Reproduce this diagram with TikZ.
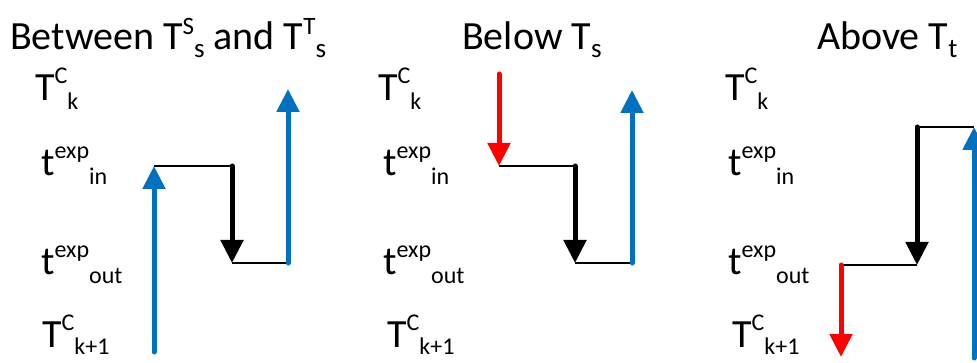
\documentclass[tikz,border=0pt]{standalone}
\usepackage{fontspec}
\setmainfont{Carlito}
\usetikzlibrary{arrows.meta}
\definecolor{myblue}{RGB}{0,112,192}
\definecolor{myred}{RGB}{255,0,0}
\newcommand\upx[1]{\raisebox{17pt}{\fontsize{24}{24}\selectfont #1}}
\newcommand\dnx[1]{\raisebox{-9pt}{\fontsize{24}{24}\selectfont #1}}
\newcommand\dnxb[1]{\raisebox{-7pt}{\fontsize{24}{24}\selectfont #1}}
\newcommand\tupx[1]{\raisebox{15pt}{\fontsize{25}{25}\selectfont #1}}
\newcommand\tdnx[1]{\raisebox{-8pt}{\fontsize{27}{27}\selectfont #1}}
\tikzset{
  lbl/.style={anchor=base west, inner sep=0pt, font=\fontsize{40}{40}\selectfont},
  ttl/.style={anchor=base west, inner sep=0pt, font=\fontsize{40}{40}\selectfont},
  thick arrow/.style={line width=5pt, line cap=round, -{Triangle[width=22pt,length=23pt]}},
  blueflow/.style={thick arrow, draw=myblue},
  redflow/.style={thick arrow, draw=myred},
  blackflow/.style={thick arrow, draw=black},
  link/.style={line width=1.7pt, draw=black}
}
\begin{document}
\begin{tikzpicture}[x=1pt,y=-1pt]
\useasboundingbox[fill=white] (0,0) rectangle (977,363);
% ---------- Panel 1 ----------
\node[ttl] (t1) at (10,50) {Between T\tupx{S}\tdnx{s} and T\tupx{T}\tdnx{s}};
\node[lbl] (p1k)  at (35,101) {T\upx{C}\dnx{k}};
\node[lbl] (p1in) at (41,176) {t\upx{exp}\dnx{in}};
\node[lbl] (p1out) at (41,275) {t\upx{exp}\dnx{out}};
\node[lbl] (p1k1) at (42,347) {T\upx{C}\dnxb{k+1}};
\coordinate (a1) at (154,352);
\coordinate (a2) at (154,166);
\coordinate (b1) at (232,166);
\coordinate (b2) at (232,263);
\coordinate (c1) at (288,263);
\coordinate (c2) at (288,89);
\draw[link] (a2) -- (b1);
\draw[link] (b2) -- (c1);
\draw[blueflow] (a1) -- (a2);
\draw[blackflow] (b1) -- (b2);
\draw[blueflow] (c1) -- (c2);
% ---------- Panel 2 ----------
\node[ttl] (t2) at (462,50) {Below T\tdnx{s}};
\node[lbl] (p2k)  at (378,101) {T\upx{C}\dnx{k}};
\node[lbl] (p2in) at (383,176) {t\upx{exp}\dnx{in}};
\node[lbl] (p2out) at (383,275) {t\upx{exp}\dnx{out}};
\node[lbl] (p2k1) at (387,347) {T\upx{C}\dnxb{k+1}};
\coordinate (r1) at (499,74);
\coordinate (r2) at (499,166);
\coordinate (d1) at (575,166);
\coordinate (d2) at (575,263);
\coordinate (e1) at (632,263);
\coordinate (e2) at (632,90);
\draw[link] (r2) -- (d1);
\draw[link] (d2) -- (e1);
\draw[redflow] (r1) -- (r2);
\draw[blackflow] (d1) -- (d2);
\draw[blueflow] (e1) -- (e2);
% ---------- Panel 3 ----------
\node[ttl] (t3) at (817,50) {Above T\tdnx{t}};
\node[lbl] (p3k)  at (725,101) {T\upx{C}\dnx{k}};
\node[lbl] (p3in) at (728,176) {t\upx{exp}\dnx{in}};
\node[lbl] (p3out) at (728,275) {t\upx{exp}\dnx{out}};
\node[lbl] (p3k1) at (732,347) {T\upx{C}\dnxb{k+1}};
\coordinate (f1) at (917,127);
\coordinate (f2) at (917,265);
\coordinate (g1) at (841,265);
\coordinate (g2) at (841,357);
\coordinate (h1) at (974,358);
\coordinate (h2) at (974,127);
\draw[link] (f1) -- (h2);
\draw[link] (g1) -- (f2);
\draw[blackflow] (f1) -- (f2);
\draw[redflow] (g1) -- (g2);
\draw[blueflow] (h1) -- (h2);
\end{tikzpicture}
\end{document}
